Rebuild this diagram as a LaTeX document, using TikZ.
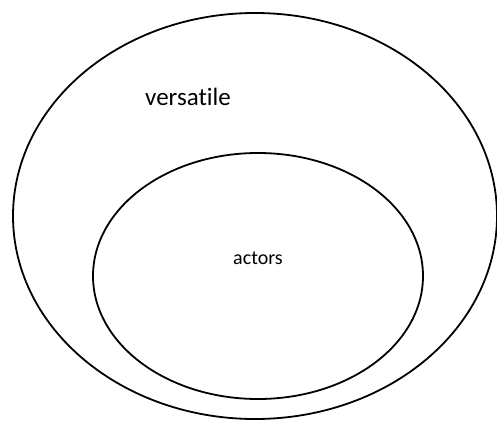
\documentclass[tikz,border=0pt]{standalone}
\usepackage{fontspec}
\setmainfont[Ligatures=NoCommon]{Carlito}
\usetikzlibrary{shapes.geometric}
\begin{document}
\begin{tikzpicture}[x=1pt,y=-1pt,
  setbox/.style={draw=black,line width=1.8pt,ellipse,inner sep=0pt,outer sep=0pt}]
\useasboundingbox (0,0) rectangle (497,420);
\node[setbox,minimum width=484pt,minimum height=406pt] (outer) at (255,216) {};
\node[setbox,minimum width=330pt,minimum height=246pt] (inner) at (258,276) {};
\node[font=\fontsize{25}{30}\selectfont,inner sep=0pt] (vers) at (188,97) {versatile};
\node[font=\fontsize{20}{24}\selectfont,inner sep=0pt] (act) at (258,258) {actors};
\end{tikzpicture}
\end{document}
